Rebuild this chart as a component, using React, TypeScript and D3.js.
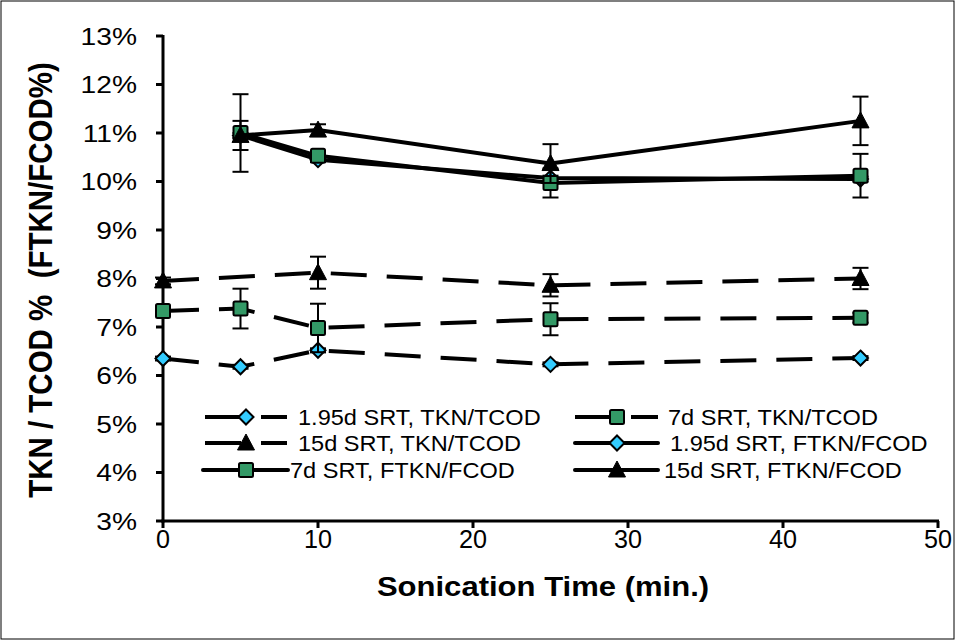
import React from "react";
import * as d3 from "d3";

const tknTimes = [0, 5, 10, 25, 45];
const tkn15Times = [0, 10, 25, 45];
const ftknTimes = [5, 10, 25, 45];

const tkn195 = [6.35, 6.18, 6.52, 6.23, 6.36];
const tkn195Err = [0.04, 0.04, 0.04, 0.04, 0.04];
const tkn7 = [7.33, 7.38, 6.98, 7.16, 7.19];
const tkn7Err = [0.05, 0.41, 0.5, 0.33, 0.1];
const tkn15 = [7.95, 8.12, 7.86, 8.0];
const tkn15Err = [0.07, 0.33, 0.23, 0.22];
const ftkn195 = [10.95, 10.45, 10.07, 10.05];
const ftkn195Err = [0.05, 0.05, 0.05, 0.05];
const ftkn7 = [11.0, 10.53, 9.97, 10.12];
const ftkn7Err = [0.8, 0.1, 0.3, 0.45];
const ftkn15 = [10.95, 11.06, 10.37, 11.25];
const ftkn15Err = [0.3, 0.12, 0.4, 0.5];

const seriesNames = [
  "1.95d SRT, TKN/TCOD",
  "7d SRT, TKN/TCOD",
  "15d SRT, TKN/TCOD",
  "1.95d SRT, FTKN/FCOD",
  "7d SRT, FTKN/FCOD",
  "15d SRT, FTKN/FCOD",
];

const xTicks = [0, 10, 20, 30, 40, 50];
const yTicks = [3, 4, 5, 6, 7, 8, 9, 10, 11, 12, 13];

const CYAN = "#33CCFF";
const GREEN = "#339966";
const SX = 1.15;

type Series = {
  name: string;
  times: number[];
  values: number[];
  errs: number[];
  dashed: boolean;
  marker: "diamond" | "square" | "triangle";
};

const series: Series[] = [
  { name: seriesNames[0], times: tknTimes, values: tkn195, errs: tkn195Err, dashed: true, marker: "diamond" },
  { name: seriesNames[1], times: tknTimes, values: tkn7, errs: tkn7Err, dashed: true, marker: "square" },
  { name: seriesNames[2], times: tkn15Times, values: tkn15, errs: tkn15Err, dashed: true, marker: "triangle" },
  { name: seriesNames[3], times: ftknTimes, values: ftkn195, errs: ftkn195Err, dashed: false, marker: "diamond" },
  { name: seriesNames[4], times: ftknTimes, values: ftkn7, errs: ftkn7Err, dashed: false, marker: "square" },
  { name: seriesNames[5], times: ftknTimes, values: ftkn15, errs: ftkn15Err, dashed: false, marker: "triangle" },
];

function Marker({ kind, x, y }: { kind: string; x: number; y: number }) {
  if (kind === "diamond") {
    const r = 7.5;
    return (
      <path
        d={`M${x},${y - r}L${x + r},${y}L${x},${y + r}L${x - r},${y}Z`}
        fill={CYAN}
        stroke="#000"
        strokeWidth={2}
      />
    );
  }
  if (kind === "square") {
    const r = 7;
    return (
      <rect x={x - r} y={y - r} width={2 * r} height={2 * r} rx={1.5} fill={GREEN} stroke="#000" strokeWidth={2} />
    );
  }
  return <path d={`M${x},${y - 9}L${x + 8.5},${y + 7}L${x - 8.5},${y + 7}Z`} fill="#000" stroke="#000" strokeWidth={1} />;
}

export default function App() {
  const W = 956;
  const H = 641;
  const x = d3.scaleLinear().domain([0, 50]).range([163, 938]);
  const y = d3.scaleLinear().domain([3, 13]).range([521, 36]);
  const line = d3
    .line<[number, number]>()
    .x((d) => x(d[0]))
    .y((d) => y(d[1]));

  const legendPos = [
    { lx0: 205, lx1: 287, mx: 246, tx: 298, ty: 417 },
    { lx0: 575, lx1: 658, mx: 617, tx: 668, ty: 417 },
    { lx0: 205, lx1: 287, mx: 246, tx: 298, ty: 443 },
    { lx0: 575, lx1: 658, mx: 617, tx: 670, ty: 443 },
    { lx0: 203, lx1: 288, mx: 246, tx: 290, ty: 470 },
    { lx0: 575, lx1: 658, mx: 617, tx: 664, ty: 470 },
  ];

  const font = "'Liberation Sans', Arial, sans-serif";

  return (
    <div style={{ position: "absolute", left: 0, top: 0 }}>
      <svg width={W} height={H} style={{ display: "block", background: "#fff" }}>
        <rect x={1} y={1} width={953} height={638} fill="#fff" stroke="#000" strokeWidth={1} />

        {/* axes */}
        <line x1={x(0)} x2={x(0)} y1={y(13) - 1} y2={y(3) + 1.5} stroke="#000" strokeWidth={3} />
        <line x1={x(0) - 1.5} x2={x(50) + 1} y1={y(3)} y2={y(3)} stroke="#000" strokeWidth={3} />
        {yTicks.map((t) => (
          <g key={"yt" + t}>
            <line x1={x(0) - 7} x2={x(0)} y1={y(t)} y2={y(t)} stroke="#000" strokeWidth={3} />
            <g transform={`translate(137,${y(t)}) scale(${SX},1)`}>
              <text x={0} y={0} dy="0.35em" textAnchor="end" fontFamily={font} fontSize={24.5} fill="#000">
                {t}%
              </text>
            </g>
          </g>
        ))}
        {xTicks.map((t) => (
          <g key={"xt" + t}>
            <line x1={x(t)} x2={x(t)} y1={y(3)} y2={y(3) + 7} stroke="#000" strokeWidth={3} />
            <g transform={`translate(${x(t)},539) scale(1.05,1.1)`}>
              <text x={0} y={0} dy="0.35em" textAnchor="middle" fontFamily={font} fontSize={24} fill="#000">
                {t}
              </text>
            </g>
          </g>
        ))}

        <g transform={`translate(543,586) scale(${SX},1.05)`}>
          <text x={0} y={0} dy="0.35em" textAnchor="middle" fontFamily={font} fontSize={27} fontWeight="bold" fill="#000">
            Sonication Time (min.)
          </text>
        </g>
        <g transform={`translate(40,280) rotate(-90) scale(1,${SX})`}>
          <text x={0} y={0} dy="0.35em" textAnchor="middle" fontFamily={font} fontSize={29.5} fontWeight="bold" fill="#000" xmlSpace="preserve">
            {"TKN / TCOD %  (FTKN/FCOD%)"}
          </text>
        </g>

        {/* series */}
        {series.map((s, si) => {
          const pts: [number, number][] = s.times.map((t, i) => [t, s.values[i]]);
          return (
            <g key={"s" + si}>
              <path
                d={line(pts) || ""}
                fill="none"
                stroke="#000"
                strokeWidth={4}
                strokeDasharray={s.dashed ? "36,20" : undefined}
                strokeLinejoin="round"
              />
              {pts.map((p, i) => {
                const cx = x(p[0]);
                const top = y(p[1] + s.errs[i]);
                const bot = y(p[1] - s.errs[i]);
                return (
                  <g key={"e" + i} stroke="#000" strokeWidth={2}>
                    <line x1={cx} x2={cx} y1={top} y2={bot} />
                    <line x1={cx - 8} x2={cx + 8} y1={top} y2={top} />
                    <line x1={cx - 8} x2={cx + 8} y1={bot} y2={bot} />
                  </g>
                );
              })}
              {pts.map((p, i) => (
                <Marker key={"m" + i} kind={s.marker} x={x(p[0])} y={y(p[1])} />
              ))}
            </g>
          );
        })}

        {/* legend */}
        {series.map((s, si) => {
          const lp = legendPos[si];
          return (
            <g key={"l" + si}>
              <line
                x1={lp.lx0}
                x2={lp.lx1}
                y1={lp.ty}
                y2={lp.ty}
                stroke="#000"
                strokeWidth={4}
                strokeDasharray={s.dashed ? "36,20" : undefined}
                strokeLinecap={s.dashed ? "butt" : "round"}
              />
              <Marker kind={s.marker} x={lp.mx} y={lp.ty} />
              <g transform={`translate(${lp.tx},${lp.ty}) scale(${SX},1.05)`}>
                <text x={0} y={0} dy="0.35em" fontFamily={font} fontSize={20.5} fill="#000">
                  {s.name}
                </text>
              </g>
            </g>
          );
        })}
      </svg>
    </div>
  );
}
